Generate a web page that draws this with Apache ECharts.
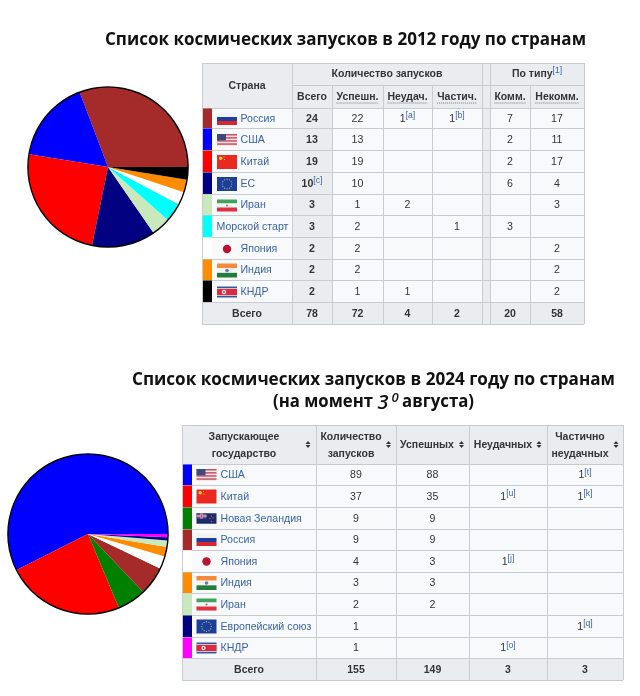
<!DOCTYPE html>
<html><head><meta charset="utf-8">
<script src="https://cdn.jsdelivr.net/npm/echarts@6/dist/echarts.min.js"></script>
<style>html,body{margin:0;padding:0;background:#fff}#c{width:640px;height:696px}</style>
</head><body><div id="c"></div>
<script>
// ---------- data: 2012 ----------
const countries2012 = ['Россия','США','Китай','ЕС','Иран','Морской старт','Япония','Индия','КНДР'];
const launches2012 = [24,13,19,10,3,3,2,2,2];
const launchNotes2012 = ['','','','[c]','','','','',''];
const success2012 = ['22','13','19','10','1','2','2','2','1'];
const failed2012 = ['1[a]','','','','2','','','','1'];
const partial2012 = ['1[b]','','','','','1','','',''];
const commercial2012 = ['7','2','2','6','','3','','',''];
const nonCommercial2012 = ['17','11','17','4','3','','2','2','2'];
const totals2012 = ['78','72','4','2','20','58'];
const flags2012 = ['ru','us','cn','eu','ir','','jp','in','kp'];
const colors2012 = ['#a52a2a','#0000ff','#ff0000','#000080','#c9e9bd','#00ffff','#ffffff','#ff8c00','#000000'];
// ---------- data: 2024 ----------
const countries2024 = ['США','Китай','Новая Зеландия','Россия','Япония','Индия','Иран','Европейский союз','КНДР'];
const launches2024 = [89,37,9,9,4,3,2,1,1];
const success2024 = ['88','35','9','9','3','3','2','',''];
const failed2024 = ['','1[u]','','','1[j]','','','','1[o]'];
const partial2024 = ['1[t]','1[k]','','','','','','1[q]',''];
const totals2024 = ['155','149','3','3'];
const flags2024 = ['us','cn','nz','ru','jp','in','ir','eu','kp'];
const colors2024 = ['#0000ff','#ff0000','#008000','#a52a2a','#ffffff','#ff8c00','#c9e9bd','#000080','#ff00ff'];
// ---------- layout ----------
const SANS = '"Liberation Sans", Arial, sans-serif';
const INK = '#333436', LINK = '#3a64ad', HEAD = '#eaecf0', CELL = '#f8f9fa', GRID = '#c8ccd1';
const BODY = 10.6, HEADF = 'bold 10.5px '+SANS;
const g = [];
const mctx = document.createElement('canvas').getContext('2d');
function width(t, f){ mctx.font = f; return mctx.measureText(t).width; }
function rect(x,y,w,h,fill){ g.push({type:'rect',silent:true,shape:{x,y,width:w,height:h},style:{fill}}); }
function line(x1,y1,x2,y2,stroke,lw,dash){
  const ox=x1===x2?.5:0, oy=y1===y2?.5:0;
  g.push({type:'line',silent:true,shape:{x1:x1+ox,y1:y1+oy,x2:x2+ox,y2:y2+oy},style:{stroke,lineWidth:lw||1,lineDash:dash||null}});
}
function dot(cx,cy,r,fill){ g.push({type:'circle',silent:true,shape:{cx,cy,r},style:{fill}}); }
function text(t,x,y,f,fill,align){ g.push({type:'text',silent:true,style:{text:t,x,y:y+1,font:f,fill,textAlign:align||'center',textVerticalAlign:'middle'}}); }
function noteText(val,cx,y,size,bold,fill){
  const m = String(val).match(/^([^\[]*)(\[.*\])?$/), main = m[1], note = m[2]||'';
  const f = (bold?'bold ':'')+size+'px '+SANS, nf = (size-2)+'px '+SANS;
  const w1 = width(main,f), w2 = note?width(note,nf):0, x0 = cx-(w1+w2)/2;
  text(main,x0,y,f,fill||INK,'left');
  if(note) text(note,x0+w1,y-3,nf,LINK,'left');
}
function flag(code,x,cy,w){
  const bands=(cs,h)=>{const t=cy-h/2;cs.forEach((c,i)=>rect(x,t+i*h/cs.length,w,h/cs.length,c));};
  if(code==='ru') bands(['#f2f2f6','#1c3f9f','#d8262c'],12);
  if(code==='us'){const h=12,t=cy-h/2;rect(x,t,w,h,'#f0e4e6');for(let i=0;i<4;i++)rect(x,t+i*3.1,w,1.5,'#c9525f');rect(x,t,9,6.4,'#3c4a80');}
  if(code==='cn'){rect(x,cy-7,w,14,'#ea2a20');dot(x+3.7,cy-3.7,1.7,'#f6d04a');dot(x+7,cy-5,.5,'#f6d04a');dot(x+7.5,cy-2.5,.5,'#f6d04a');}
  if(code==='eu'){rect(x,cy-7,w,14,'#1d3f9c');for(let i=0;i<12;i++){const a=i*Math.PI/6;dot(x+w/2+4.8*Math.cos(a),cy+4.8*Math.sin(a),.6,'#c8bd5a');}}
  if(code==='ir'){bands(['#3ea45e','#f5f5f5','#dd3040'],12);dot(x+w/2,cy,1,'#d05060');}
  if(code==='jp'){rect(x,cy-7,w,14,'#fafafa');dot(x+w/2,cy,4.2,'#bc1235');}
  if(code==='in'){bands(['#f58a3c','#f4f4f4','#1f7f3a'],14);dot(x+w/2,cy,1.8,'#6a78b8');}
  if(code==='kp'){const h=11,t=cy-h/2;rect(x,t,w,h,'#3158a8');rect(x,t+1.7,w,h-3.4,'#f3f3f3');rect(x,t+2.4,w,h-4.8,'#dc2a3c');dot(x+7,cy,2.2,'#f3f3f3');dot(x+7,cy,1,'#dc2a3c');}
  if(code==='nz'){const h=10.5,t=cy-h/2;rect(x,t,w,h,'#1a2a6c');rect(x,t,10,5.3,'#55578f');rect(x+4,t,2,5.3,'#e8e8ee');rect(x,t+2,10,1.6,'#e8e8ee');rect(x+4.6,t,.8,5.3,'#d02f44');rect(x,t+2.4,10,.8,'#d02f44');dot(x+15,cy-2.5,.7,'#d85060');dot(x+13.5,cy,.7,'#d85060');dot(x+16.5,cy-.5,.7,'#d85060');dot(x+15,cy+3,.7,'#d85060');}
}
function sortIcon(x,y){
  g.push({type:'polygon',silent:true,shape:{points:[[x-2.5,y-.6],[x+2.5,y-.6],[x,y-3.4]]},style:{fill:'#333'}});
  g.push({type:'polygon',silent:true,shape:{points:[[x-2.5,y+.6],[x+2.5,y+.6],[x,y+3.4]]},style:{fill:'#333'}});
}
function grid(cols,rows){
  cols.forEach(x=>line(x,rows[0],x,rows[rows.length-1],GRID));
  rows.forEach(y=>line(cols[0],y,cols[cols.length-1],y,GRID));
}
// ---------- table 2012 ----------
(function(){
  const X=[202,292,332,383,432,482,490,530,584];
  const Y=[63,85,108,128,150,172,194,215,237,259,280,302,324];
  const L=X[0],R=X[8];
  rect(L,Y[0],R-L,Y[12]-Y[0],CELL);
  rect(L,Y[0],R-L,Y[2]-Y[0],HEAD);
  rect(L,Y[11],R-L,Y[12]-Y[11],HEAD);
  rect(X[1],Y[2],X[2]-X[1],Y[11]-Y[2],HEAD);
  rect(X[5],Y[2],X[6]-X[5],Y[11]-Y[2],HEAD);
  Y.forEach((y,i)=>line(i===1?X[1]:L,y,R,y,GRID));
  [0,1,6,8,5].forEach(i=>line(X[i],Y[0],X[i],Y[12],GRID));
  [2,3,4,7].forEach(i=>line(X[i],Y[1],X[i],Y[12],GRID));
  text('Страна',247,85,HEADF,INK);
  text('Количество запусков',387,Y[0]+10,HEADF,INK);
  noteText('По типу[1]',537,Y[0]+10,10.5,true);
  [['Всего',312,0],['Успешн.',357.5,1],['Неудач.',407.5,1],['Частич.',457,1],['Комм.',510,1],['Некомм.',557,1]].forEach(([t,x,u])=>{
    text(t,x,96,HEADF,INK);
    if(u){const w=width(t,HEADF);line(x-w/2,102.5,x+w/2,102.5,'#777',1,[1,1]);}
  });
  countries2012.forEach((name,i)=>{
    const top=Y[i+2],bot=Y[i+3],cy=(top+bot)/2;
    rect(L+1,top+.5,9,bot-top-.5,colors2012[i]);
    if(flags2012[i]){flag(flags2012[i],217,cy+1,20);text(name,240.5,cy,BODY+'px '+SANS,LINK,'left');}
    else text(name,216.5,cy,BODY+'px '+SANS,LINK,'left');
    noteText(launches2012[i]+launchNotes2012[i],312,cy,BODY,true);
    [[success2012,357.5],[failed2012,407.5],[partial2012,457],[commercial2012,510],[nonCommercial2012,557]].forEach(([a,x])=>{ if(a[i]) noteText(a[i],x,cy,BODY,false); });
  });
  const ty=(Y[11]+Y[12])/2;
  text('Всего',247,ty,HEADF,INK);
  [312,357.5,407.5,457,510,557].forEach((x,i)=>text(totals2012[i],x,ty,HEADF,INK));
})();
// ---------- table 2024 ----------
(function(){
  const X=[182,316,396,469,547,623];
  const Y=[425,464,485,507,529,550,572,593,615,637,658,680];
  const L=X[0],R=X[5];
  rect(L,Y[0],R-L,Y[11]-Y[0],CELL);
  rect(L,Y[0],R-L,Y[1]-Y[0],HEAD);
  rect(L,Y[10],R-L,Y[11]-Y[10],HEAD);
  grid(X,Y);
  text('Запускающее',244,436,HEADF,INK); text('государство',244,453,HEADF,INK); sortIcon(308,444.5);
  text('Количество',351,436,HEADF,INK); text('запусков',351,453,HEADF,INK); sortIcon(388.5,444.5);
  text('Успешных',427,444,HEADF,INK); sortIcon(461.5,444.5);
  text('Неудачных',503,444,HEADF,INK); sortIcon(539,444.5);
  text('Частично',580,436,HEADF,INK); text('неудачных',580,453,HEADF,INK); sortIcon(616,444.5);
  countries2024.forEach((name,i)=>{
    const top=Y[i+1],bot=Y[i+2],cy=(top+bot)/2;
    rect(L+1,top+.5,9,bot-top-.5,colors2024[i]);
    flag(flags2024[i],196.5,cy+.5,20);
    text(name,220.5,cy,BODY+'px '+SANS,LINK,'left');
    noteText(String(launches2024[i]),356,cy,BODY,false);
    [[success2024,432.5],[failed2024,508],[partial2024,585]].forEach(([a,x])=>{ if(a[i]) noteText(a[i],x,cy,BODY,false); });
  });
  const ty=(Y[10]+Y[11])/2;
  text('Всего',249,ty,HEADF,INK);
  [356,432.5,508,585].forEach((x,i)=>text(totals2024[i],x,ty,HEADF,INK));
})();
// ---------- titles ----------
const TF='bold 18.5px "Open Sans", sans-serif';
function titleText(t,left,right,cy){
  const sx=(right-left)/width(t,TF);
  g.push({type:'text',silent:true,x:left,y:cy,scaleX:sx,style:{text:t,x:0,y:0,font:TF,fill:'#111',textAlign:'left',textVerticalAlign:'middle'}});
}
titleText('Список космических запусков в 2012 году по странам',105,586,40);
titleText('Список космических запусков в 2024 году по странам',132,615,380);
titleText('(на момент',273,373,402);
titleText('августа)',402,474,402);
text('3',383,402,'italic 600 20px "Open Sans", sans-serif','#111');
text('0',395,397,'italic 600 13px "Open Sans", sans-serif','#111');

function pie(center,vals,cols,names){
  return [{type:'pie',silent:true,animation:false,center,radius:[0,80],startAngle:0,clockwise:false,
    label:{show:false},labelLine:{show:false},emphasis:{disabled:true},
    data:vals.map((v,i)=>({value:v,name:names[i],itemStyle:{color:cols[i]}}))},
   {type:'pie',silent:true,animation:false,center,radius:[79.4,80.8],startAngle:0,clockwise:false,
    label:{show:false},labelLine:{show:false},emphasis:{disabled:true},
    data:[{value:1,name:'контур',itemStyle:{color:'#000'}}]}];
}
const chart=echarts.init(document.getElementById('c'),null,{renderer:'canvas'});
chart.setOption({
  animation:false,backgroundColor:'#fff',
  series:[...pie([108,167],launches2012,colors2012,countries2012),...pie([88,534],launches2024,colors2024,countries2024)],
  graphic:{elements:g}
});
</script></body></html>
